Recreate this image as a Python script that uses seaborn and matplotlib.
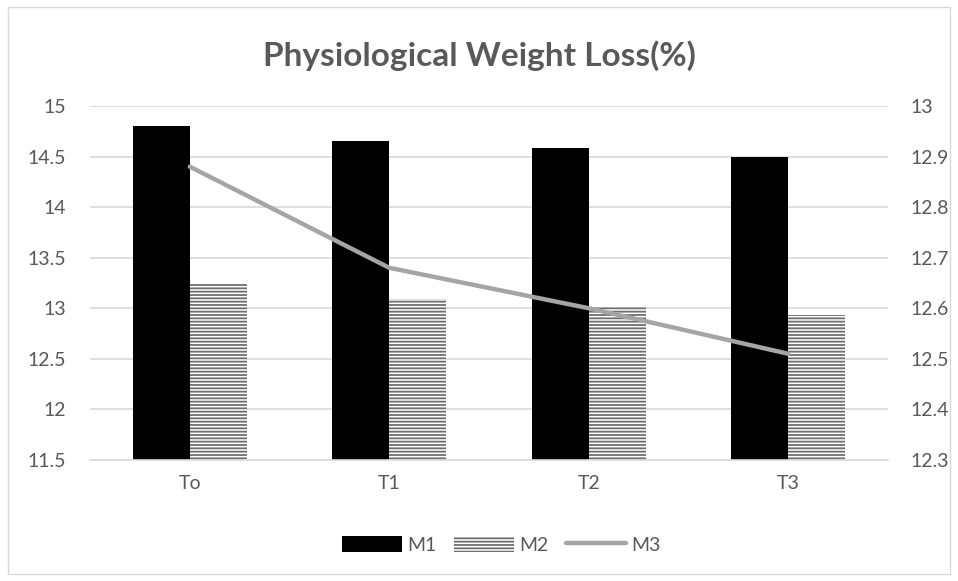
import matplotlib.pyplot as plt
import numpy as np
import pandas as pd
import seaborn as sns
from matplotlib.lines import Line2D
from matplotlib.patches import Patch, Rectangle
from matplotlib.ticker import FuncFormatter, MultipleLocator

STAGES = ["To", "T1", "T2", "T3"]
M1 = [14.8, 14.65, 14.58, 14.5]
M2 = [13.24, 13.09, 13.01, 12.93]
M3 = [12.88, 12.68, 12.6, 12.51]

TEXT = "#595959"
GRID = "#d9d9d9"

sns.set_theme(style="white")
plt.rcParams["font.family"] = ["Lato", "DejaVu Sans"]
plt.rcParams["hatch.color"] = "#6e6e6e"
plt.rcParams["hatch.linewidth"] = 1.3

bars = pd.DataFrame(
    {
        "stage": STAGES * 2,
        "value": M1 + M2,
        "series": ["M1"] * len(STAGES) + ["M2"] * len(STAGES),
    }
)

fig = plt.figure(figsize=(9.58, 5.81), dpi=100)
ax = fig.add_axes([0.094, 0.2083, 0.833, 0.6093])

sns.barplot(
    data=bars, x="stage", y="value", hue="series", order=STAGES,
    palette=["black", "white"], width=0.57, legend=False, ax=ax,
    edgecolor="#6e6e6e", linewidth=0,
)
for patch in ax.containers[1]:
    patch.set_hatch("-----")

ax.set_xlim(-0.5, len(STAGES) - 0.5)
ax.set_ylim(11.5, 15)
ax.yaxis.set_major_locator(MultipleLocator(0.5))
ax.yaxis.set_major_formatter(FuncFormatter(lambda v, _: f"{v:g}"))
ax.set_axisbelow(True)
ax.yaxis.grid(True, color=GRID, linewidth=1.2)
ax.set_xlabel("")
ax.set_ylabel("")
for side in ["top", "right", "left"]:
    ax.spines[side].set_visible(False)
ax.spines["bottom"].set_color(GRID)
ax.spines["bottom"].set_linewidth(1.2)
ax.tick_params(axis="both", length=0, labelsize=14, colors=TEXT)
ax.tick_params(axis="x", pad=11)
ax.tick_params(axis="y", pad=17)

ax2 = ax.twinx()
sns.lineplot(x=np.arange(len(STAGES)), y=M3, color="#a5a5a5", linewidth=3.2, ax=ax2)
ax2.set_ylim(12.3, 13)
ax2.yaxis.set_major_locator(MultipleLocator(0.1))
ax2.yaxis.set_major_formatter(FuncFormatter(lambda v, _: f"{v:g}"))
for side in ["top", "right", "left", "bottom"]:
    ax2.spines[side].set_visible(False)
ax2.tick_params(axis="y", length=0, labelsize=14, colors=TEXT, pad=16)
ax2.set_ylabel("")

fig.suptitle("Physiological Weight Loss(%)", x=0.5, y=0.93, fontsize=24,
             fontweight="bold", color=TEXT)

handles = [
    Patch(facecolor="black", edgecolor="black", linewidth=0),
    Patch(facecolor="white", edgecolor="#6e6e6e", linewidth=0, hatch="-----"),
    Line2D([0], [0], color="#a5a5a5", linewidth=3.2),
]
fig.legend(handles, ["M1", "M2", "M3"], loc="center", bbox_to_anchor=(0.523, 0.062),
           ncol=3, frameon=False, fontsize=14, labelcolor=TEXT,
           handlelength=3.1, handleheight=0.9, columnspacing=0.9, handletextpad=0.25)

fig.patches.append(Rectangle((0.0084, 0.012), 0.983, 0.976, transform=fig.transFigure,
                             fill=False, edgecolor=GRID, linewidth=1))

fig.savefig("out.png", dpi=100)
